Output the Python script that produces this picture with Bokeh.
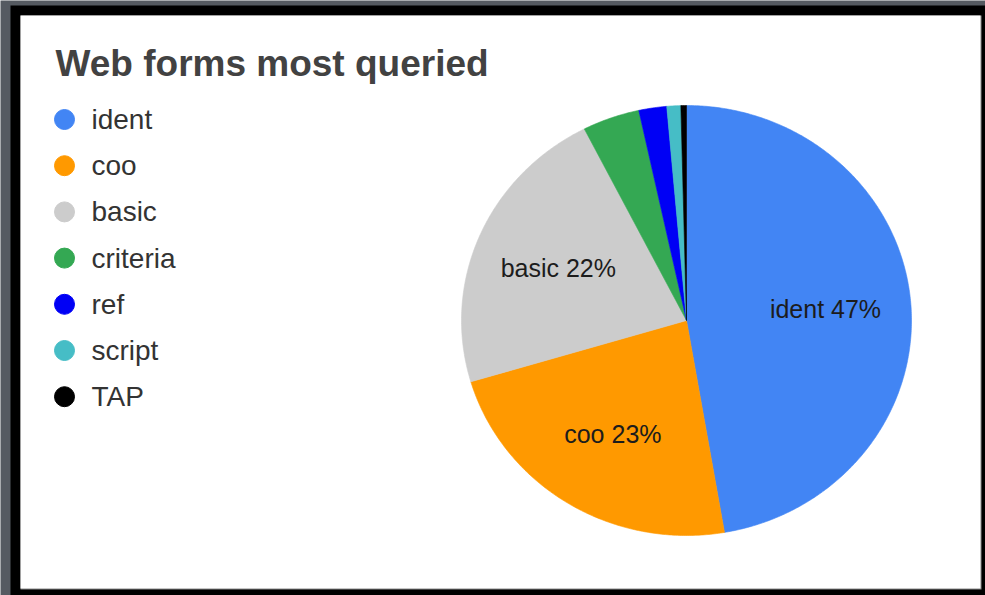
import numpy as np
from bokeh.plotting import figure
from bokeh.models import Range1d
from bokeh.core.properties import value
from bokeh.embed import file_html
from bokeh.resources import INLINE

# ---- data ----
title = "Web forms most queried"
categories = ["ident", "coo", "basic", "criteria", "ref", "script", "TAP"]
shares = [47.3, 23.1, 22.1, 4.1, 2.0, 1.0, 0.4]
colors = ["#4285F4", "#FF9900", "#CCCCCC", "#34A853", "#0000F5", "#46BDC6", "#000000"]

# ---- layout constants (pixels) ----
W, H = 985, 595
CX, CY = 686, 320
RX, RY = 225, 215
LABEL_F = 0.62
FONT = "Liberation Sans"

p = figure(width=W, height=H, output_backend="svg", toolbar_location=None,
           x_range=Range1d(0, W), y_range=Range1d(H, 0), min_border=0)
p.axis.visible = False
p.grid.visible = False
p.outline_line_color = None
p.background_fill_color = "#555a61"
p.border_fill_color = "#555a61"

# frame: black border, white card
p.quad(left=[10], right=[W], top=[5], bottom=[H], fill_color="#000000", line_color=None)
p.quad(left=[20], right=[981], top=[15], bottom=[589], fill_color="#8a8a8a", line_color=None)
p.quad(left=[20], right=[980], top=[15], bottom=[588], fill_color="#ffffff", line_color=None)

# pie slices (clockwise from 12 o'clock)
vals = np.array(shares, dtype=float)
frac = vals / vals.sum()
ends = np.cumsum(frac)
starts = ends - frac
xs, ys = [], []
for s, e in zip(starts, ends):
    n = max(4, int(np.ceil((e - s) * 720)))
    th = np.linspace(s, e, n) * 2 * np.pi
    xs.append(np.concatenate([[CX], CX + RX * np.sin(th), [CX]]).tolist())
    ys.append(np.concatenate([[CY], CY - RY * np.cos(th), [CY]]).tolist())
p.patches(xs=xs, ys=ys, fill_color=colors, line_color=colors, line_width=0.6)

# slice labels (only large slices)
lx, ly, lt = [], [], []
for c, f, s, e in zip(categories, frac, starts, ends):
    if f >= 0.05:
        mid = (s + e) / 2 * 2 * np.pi
        lx.append(CX + RX * LABEL_F * np.sin(mid))
        ly.append(CY - RY * LABEL_F * np.cos(mid))
        lt.append(f"{c} {round(f * 100)}%")
p.text(x=lx, y=ly, text=lt, text_font=value(FONT), text_font_size="25px",
       text_color="#1c1c1c", text_align="center", text_baseline="middle")

# title
p.text(x=[55], y=[63], text=[title], text_font=value(FONT), text_font_size="37px",
       text_font_style="bold", text_color="#424242", text_baseline="middle")

# legend
rows = 119 + 46.2 * np.arange(len(categories))
p.scatter(x=[64] * len(categories), y=rows.tolist(), size=20, marker="circle",
          fill_color=colors, line_color=colors)
p.text(x=[91] * len(categories), y=rows.tolist(), text=categories,
       text_font=value(FONT), text_font_size="28px", text_color="#333333",
       text_baseline="middle")

open("out.html", "w").write(file_html(p, INLINE))
